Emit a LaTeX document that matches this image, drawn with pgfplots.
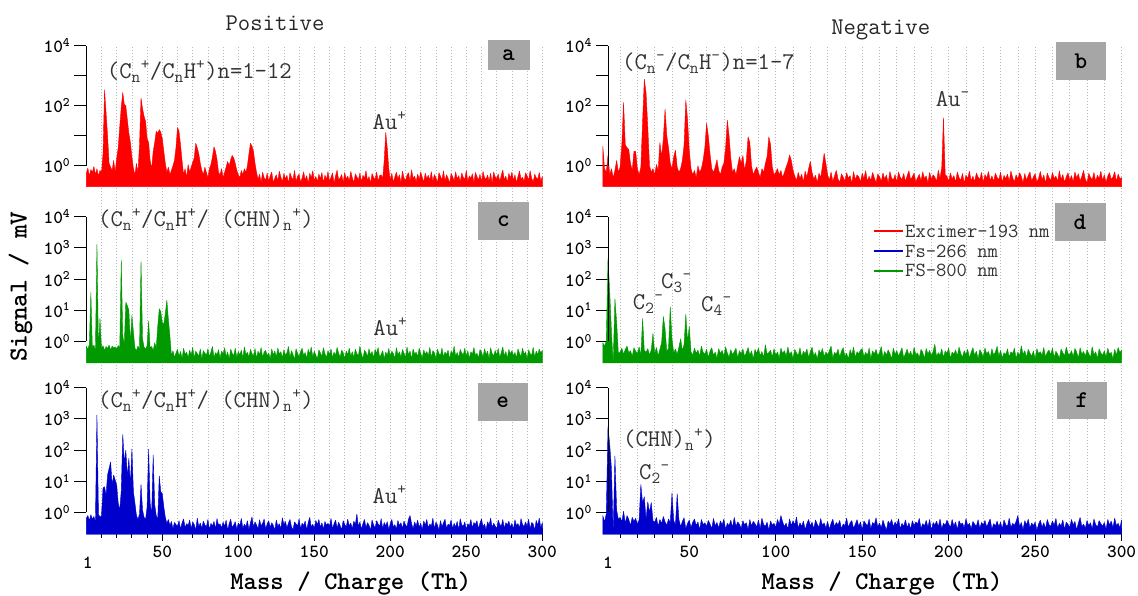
\documentclass[border=0pt]{standalone}
\usepackage{pgfplots}
\pgfplotsset{compat=1.18}
\usepackage{pgfplotstable}
\renewcommand{\familydefault}{\ttdefault}
\definecolor{cRed}{RGB}{255,0,0}
\definecolor{cGreen}{RGB}{0,153,0}
\definecolor{cBlue}{RGB}{0,0,205}
\definecolor{boxgray}{RGB}{166,166,166}
\definecolor{gridgray}{RGB}{185,185,185}
\newcommand{\myfs}[1]{\fontsize{#1}{#1}\selectfont}

% m/z = row index (0..300)
\pgfplotstableread[row sep=\\]{y\\
0.55\\0.85\\0.45\\0.75\\0.6\\0.95\\0.5\\0.8\\0.45\\0.7\\
0.6\\2.5\\340\\60\\10\\1.2\\0.9\\0.7\\1.5\\0.6\\
1.8\\4\\20\\90\\280\\110\\100\\35\\12\\6\\
2\\0.8\\0.5\\1.2\\0.6\\5\\180\\80\\45\\30\\
8\\6\\1.5\\0.8\\3\\6\\14\\12\\16\\13\\
8\\3\\1.2\\0.6\\0.9\\0.5\\0.7\\1.0\\1.5\\4\\
19\\14\\5\\1.5\\0.5\\0.8\\0.4\\1.1\\0.6\\0.9\\
1.3\\1.8\\5.6\\4\\2.5\\1.2\\0.7\\0.5\\0.9\\0.6\\
0.4\\0.8\\1.1\\2\\4.3\\3\\1.6\\0.6\\0.5\\0.8\\
0.4\\0.6\\0.9\\1.4\\1.0\\1.6\\2.2\\1.8\\1.2\\0.7\\
0.5\\0.4\\0.7\\0.5\\0.8\\0.6\\1.0\\2.5\\5.6\\4.5\\
3.0\\1.2\\0.6\\0.35\\0.52\\0.28\\0.61\\0.4\\0.33\\0.57\\
0.3\\0.46\\0.62\\0.27\\0.38\\0.5\\0.31\\0.66\\0.42\\0.29\\
0.55\\0.36\\0.48\\0.26\\0.59\\0.41\\0.34\\0.7\\0.3\\0.45\\
0.52\\0.28\\0.39\\0.63\\0.33\\0.47\\0.25\\0.56\\0.4\\0.68\\
0.32\\0.44\\0.29\\0.53\\0.37\\0.6\\0.27\\0.49\\0.35\\0.64\\
0.3\\0.42\\0.57\\0.26\\0.46\\0.72\\0.34\\0.39\\0.51\\0.28\\
0.6\\0.36\\0.45\\0.31\\0.65\\0.4\\0.27\\0.54\\0.43\\0.33\\
0.58\\0.29\\0.48\\0.38\\0.69\\0.32\\0.44\\0.26\\0.55\\0.41\\
0.35\\0.62\\0.3\\0.47\\0.5\\0.37\\1.5\\13\\4\\0.8\\
0.33\\0.56\\0.28\\0.43\\0.61\\0.36\\0.5\\0.27\\0.66\\0.4\\
0.31\\0.49\\0.58\\0.3\\0.74\\0.38\\0.45\\0.29\\0.53\\0.35\\
0.62\\0.42\\0.28\\0.57\\0.37\\0.48\\0.33\\0.64\\0.3\\0.51\\
0.4\\0.27\\0.59\\0.45\\0.34\\0.68\\0.31\\0.5\\0.39\\0.26\\
0.55\\0.43\\0.32\\0.63\\0.36\\0.47\\0.29\\0.58\\0.41\\0.35\\
0.7\\0.3\\0.46\\0.38\\0.54\\0.27\\0.6\\0.44\\0.33\\0.52\\
0.29\\0.65\\0.4\\0.35\\0.49\\0.31\\0.57\\0.26\\0.62\\0.43\\
0.37\\0.53\\0.3\\0.48\\0.72\\0.34\\0.45\\0.28\\0.56\\0.39\\
0.61\\0.32\\0.5\\0.27\\0.44\\0.67\\0.36\\0.41\\0.3\\0.58\\
0.46\\0.33\\0.69\\0.38\\0.29\\0.52\\0.4\\0.35\\0.6\\0.31\\
0.44\\
}\dataA

\pgfplotstableread[row sep=\\]{y\\
4.5\\0.8\\0.6\\2.2\\0.5\\0.8\\0.4\\0.7\\1.5\\0.6\\
0.9\\5\\130\\5\\4\\3.5\\1.2\\0.7\\3\\3\\
0.8\\0.5\\0.9\\30\\770\\270\\20\\1.0\\0.6\\0.8\\
0.5\\1.1\\0.7\\6\\2\\8\\78\\10\\4\\1.2\\
0.8\\2\\3.3\\0.9\\0.6\\0.8\\1.5\\5\\155\\35\\
3.2\\0.8\\0.5\\0.7\\0.4\\1.0\\0.6\\0.8\\1.5\\4\\
26\\10\\2.5\\0.8\\0.6\\0.9\\1.6\\0.7\\0.5\\0.9\\
1.2\\4\\33\\10\\1.8\\0.6\\0.8\\0.5\\1.0\\2.0\\
1.2\\2.2\\0.7\\1.5\\9.3\\6\\1.0\\0.5\\0.7\\0.9\\
0.6\\0.4\\0.8\\0.6\\1.2\\2\\9.3\\5\\0.9\\0.5\\
0.6\\0.8\\0.5\\0.7\\0.4\\0.6\\0.9\\1.3\\2.3\\1.5\\
0.7\\0.45\\0.32\\0.6\\0.38\\0.52\\0.29\\0.66\\0.41\\0.8\\
1.4\\0.6\\0.35\\0.48\\0.27\\0.57\\0.4\\1.0\\2.6\\1.2\\
0.5\\0.33\\0.62\\0.3\\0.46\\0.7\\0.36\\0.28\\0.54\\0.42\\
0.31\\0.59\\0.38\\0.47\\0.26\\0.64\\0.34\\0.5\\0.43\\0.29\\
0.56\\0.37\\0.69\\0.3\\0.45\\0.32\\0.6\\0.4\\0.27\\0.53\\
0.44\\0.3\\0.58\\0.36\\0.49\\0.26\\0.65\\0.39\\0.33\\0.51\\
0.28\\0.62\\0.41\\0.35\\0.55\\0.3\\0.47\\0.68\\0.34\\0.43\\
0.57\\0.29\\0.4\\0.52\\0.31\\0.63\\0.37\\0.46\\0.27\\0.6\\
0.35\\0.5\\0.42\\0.3\\0.71\\0.38\\0.9\\40\\0.5\\0.44\\
0.3\\0.58\\0.36\\0.47\\0.28\\0.62\\0.4\\0.33\\0.55\\0.26\\
0.49\\0.37\\0.66\\0.31\\0.45\\0.29\\0.57\\0.42\\0.35\\0.6\\
0.27\\0.51\\0.39\\0.64\\0.32\\0.46\\0.3\\0.56\\0.41\\0.34\\
0.61\\0.28\\0.48\\0.37\\0.53\\0.3\\0.67\\0.4\\0.29\\0.5\\
0.36\\0.59\\0.44\\0.27\\0.55\\0.33\\0.47\\0.62\\0.31\\0.42\\
0.54\\0.29\\0.38\\0.65\\0.34\\0.49\\0.26\\0.57\\0.4\\0.32\\
0.6\\0.37\\0.45\\0.3\\0.68\\0.35\\0.51\\0.28\\0.43\\0.58\\
0.33\\0.47\\0.29\\0.62\\0.39\\0.54\\0.31\\0.44\\0.7\\0.36\\
0.27\\0.56\\0.41\\0.34\\0.6\\0.3\\0.48\\0.38\\0.66\\0.32\\
0.5\\0.28\\0.45\\0.59\\0.35\\0.42\\0.63\\0.3\\0.53\\0.37\\
0.4\\
}\dataB

\pgfplotstableread[row sep=\\]{y\\
0.7\\0.55\\0.8\\37\\0.6\\0.75\\0.5\\1300\\0.65\\5.4\\
0.6\\0.72\\0.5\\0.68\\0.58\\0.75\\0.52\\0.7\\0.6\\0.66\\
0.55\\0.73\\0.62\\400\\1.5\\0.8\\18\\14\\10\\0.9\\
6.8\\2\\0.6\\0.5\\0.7\\0.58\\370\\1.2\\0.65\\0.55\\
0.72\\4.5\\0.6\\0.68\\0.5\\0.9\\0.62\\3\\11\\9\\
4\\3.5\\8\\21\\5\\1.5\\0.35\\0.5\\0.3\\0.42\\
0.55\\0.33\\0.47\\0.28\\0.6\\0.38\\0.44\\0.3\\0.52\\0.36\\
0.64\\0.29\\0.48\\0.4\\0.33\\0.57\\0.27\\0.5\\0.42\\0.35\\
0.58\\0.31\\0.46\\0.68\\0.3\\0.43\\0.37\\0.54\\0.28\\0.49\\
0.39\\0.62\\0.32\\0.45\\0.27\\0.56\\0.41\\0.34\\0.6\\0.3\\
0.47\\0.36\\0.52\\0.29\\0.66\\0.38\\0.44\\0.31\\0.55\\0.4\\
0.33\\0.59\\0.28\\0.48\\0.37\\0.63\\0.3\\0.45\\0.51\\0.34\\
0.42\\0.27\\0.57\\0.36\\0.49\\0.31\\0.61\\0.39\\0.46\\0.29\\
0.54\\0.35\\0.43\\0.68\\0.3\\0.5\\0.37\\0.26\\0.58\\0.41\\
0.32\\0.47\\0.6\\0.34\\0.44\\0.28\\0.55\\0.39\\0.65\\0.31\\
0.48\\0.36\\0.27\\0.53\\0.42\\0.33\\0.62\\0.4\\0.3\\0.5\\
0.38\\0.57\\0.29\\0.45\\0.35\\0.64\\0.41\\0.31\\0.52\\0.43\\
0.27\\0.49\\0.37\\0.6\\0.33\\0.46\\0.3\\0.56\\0.4\\0.34\\
0.7\\0.39\\0.28\\0.51\\0.44\\0.32\\0.58\\0.36\\0.47\\0.29\\
0.55\\0.41\\0.63\\0.3\\0.38\\0.5\\0.27\\0.45\\0.35\\0.59\\
0.33\\0.48\\0.4\\0.28\\0.62\\0.37\\0.46\\0.31\\0.54\\0.42\\
0.3\\0.66\\0.36\\0.49\\0.27\\0.57\\0.39\\0.44\\0.32\\0.6\\
0.41\\0.29\\0.53\\0.38\\0.47\\0.34\\0.64\\0.3\\0.5\\0.43\\
0.28\\0.56\\0.4\\0.35\\0.61\\0.31\\0.45\\0.37\\0.52\\0.27\\
0.48\\0.39\\0.69\\0.33\\0.44\\0.3\\0.55\\0.42\\0.36\\0.6\\
0.32\\0.5\\0.28\\0.46\\0.38\\0.63\\0.35\\0.41\\0.29\\0.54\\
0.45\\0.31\\0.58\\0.37\\0.48\\0.27\\0.62\\0.4\\0.34\\0.51\\
0.36\\0.59\\0.3\\0.43\\0.66\\0.33\\0.47\\0.28\\0.55\\0.39\\
0.5\\0.34\\0.44\\0.29\\0.57\\0.41\\0.32\\0.6\\0.38\\0.46\\
0.27\\0.53\\0.4\\0.35\\0.64\\0.3\\0.49\\0.37\\0.56\\0.42\\
0.5\\
}\dataC

\pgfplotstableread[row sep=\\]{y\\
0.9\\0.7\\1.0\\455\\39\\2\\0.2\\23.5\\4.2\\0.4\\
0.45\\0.6\\0.38\\0.55\\0.7\\0.42\\0.5\\0.33\\0.62\\0.48\\
0.4\\0.66\\0.35\\5.4\\0.5\\0.44\\0.58\\0.36\\0.52\\1.8\\
0.4\\0.63\\0.34\\0.55\\0.9\\6.3\\2.5\\0.47\\0.6\\12.7\\
1.2\\0.42\\0.56\\0.38\\0.65\\1.2\\0.5\\0.8\\7.4\\1.0\\
3\\0.45\\0.36\\0.6\\0.41\\0.52\\0.33\\0.7\\0.44\\0.38\\
0.56\\0.3\\0.48\\0.62\\0.35\\0.45\\0.28\\0.58\\0.4\\0.51\\
0.33\\0.67\\0.42\\0.3\\0.54\\0.37\\0.46\\0.6\\0.29\\0.5\\
0.39\\0.57\\0.32\\0.44\\0.63\\0.36\\0.49\\0.27\\0.55\\0.41\\
0.6\\0.34\\0.47\\0.3\\0.78\\0.38\\0.43\\0.52\\0.31\\0.58\\
0.36\\0.45\\0.29\\0.61\\0.4\\0.5\\0.33\\0.66\\0.37\\0.46\\
0.28\\0.55\\0.42\\0.35\\0.62\\0.31\\0.48\\0.39\\0.57\\0.3\\
0.47\\0.64\\0.34\\0.43\\0.27\\0.53\\0.4\\0.59\\0.32\\0.45\\
0.36\\0.5\\0.7\\0.29\\0.44\\0.38\\0.56\\0.31\\0.48\\0.62\\
0.33\\0.41\\0.27\\0.54\\0.37\\0.65\\0.3\\0.46\\0.4\\0.52\\
0.58\\0.32\\0.44\\0.35\\0.61\\0.28\\0.49\\0.39\\0.55\\0.34\\
0.43\\0.68\\0.3\\0.47\\0.36\\0.53\\0.41\\0.27\\0.6\\0.38\\
0.5\\0.33\\0.45\\0.62\\0.29\\0.4\\0.56\\0.35\\0.48\\0.31\\
0.64\\0.37\\0.42\\0.3\\0.55\\0.44\\0.28\\0.59\\0.39\\0.51\\
0.34\\0.47\\0.8\\0.32\\0.43\\0.36\\0.57\\0.3\\0.49\\0.41\\
0.6\\0.28\\0.45\\0.38\\0.53\\0.33\\0.66\\0.4\\0.31\\0.5\\
0.37\\0.56\\0.29\\0.44\\0.62\\0.35\\0.48\\0.27\\0.54\\0.42\\
0.32\\0.61\\0.39\\0.47\\0.3\\0.58\\0.36\\0.45\\0.69\\0.33\\
0.51\\0.29\\0.43\\0.37\\0.57\\0.31\\0.46\\0.4\\0.6\\0.28\\
0.45\\0.34\\0.72\\0.38\\0.5\\0.3\\0.55\\0.42\\0.33\\0.49\\
0.27\\0.58\\0.4\\0.46\\0.35\\0.63\\0.31\\0.44\\0.52\\0.37\\
0.6\\0.3\\0.48\\0.39\\0.28\\0.56\\0.43\\0.34\\0.65\\0.41\\
0.36\\0.5\\0.32\\0.59\\0.45\\0.29\\0.62\\0.38\\0.47\\0.33\\
0.54\\0.4\\0.3\\0.67\\0.37\\0.46\\0.28\\0.57\\0.42\\0.35\\
0.49\\0.31\\0.6\\0.39\\0.44\\0.27\\0.55\\0.36\\0.63\\0.43\\
0.52\\
}\dataD

\pgfplotstableread[row sep=\\]{y\\
0.65\\0.8\\0.55\\0.85\\0.6\\0.75\\0.5\\1340\\0.9\\0.7\\
0.8\\6\\6.7\\3.6\\16\\26\\42\\7.6\\16\\11\\
7.6\\2\\1.2\\5\\320\\40\\100\\14\\55\\7.6\\
110\\4.6\\2\\0.8\\0.6\\0.9\\8\\1.2\\0.7\\0.6\\
1.5\\108\\2\\0.9\\70\\1.8\\0.8\\0.6\\15\\4.6\\
4\\1.5\\0.7\\0.45\\0.6\\0.38\\0.52\\0.3\\0.48\\0.41\\
0.36\\0.55\\0.29\\0.47\\0.62\\0.33\\0.44\\0.38\\0.58\\0.3\\
0.5\\0.41\\0.27\\0.66\\0.35\\0.46\\0.31\\0.53\\0.4\\0.34\\
0.6\\0.28\\0.45\\0.37\\0.52\\0.3\\0.64\\0.39\\0.43\\0.32\\
0.49\\0.36\\0.57\\0.27\\0.44\\0.61\\0.33\\0.4\\0.51\\0.29\\
0.46\\0.38\\0.65\\0.31\\0.42\\0.35\\0.55\\0.28\\0.48\\0.72\\
0.34\\0.5\\0.4\\0.3\\0.59\\0.37\\0.45\\0.62\\0.29\\0.43\\
0.55\\0.33\\0.47\\0.39\\0.27\\0.58\\0.36\\0.44\\0.3\\0.68\\
0.41\\0.52\\0.32\\0.46\\0.6\\0.35\\0.28\\0.5\\0.43\\0.37\\
0.63\\0.3\\0.45\\0.38\\0.54\\0.27\\0.48\\0.7\\0.34\\0.42\\
0.31\\0.56\\0.4\\0.6\\0.33\\0.47\\0.29\\0.52\\0.39\\0.45\\
0.36\\0.65\\0.3\\0.44\\0.57\\0.32\\0.49\\0.38\\0.28\\0.55\\
0.42\\0.34\\0.61\\0.37\\0.46\\0.3\\0.53\\0.41\\0.9\\0.35\\
0.5\\0.29\\0.44\\0.6\\0.33\\0.47\\0.39\\0.27\\0.58\\0.4\\
0.32\\0.55\\0.43\\0.36\\0.64\\0.3\\0.48\\0.37\\0.51\\0.28\\
0.45\\0.6\\0.34\\0.41\\0.29\\0.56\\0.38\\0.47\\0.31\\0.53\\
0.4\\0.35\\0.62\\0.8\\0.44\\0.3\\0.5\\0.37\\0.57\\0.33\\
0.46\\0.28\\0.54\\0.39\\0.6\\0.32\\0.43\\0.36\\0.66\\0.3\\
0.49\\0.41\\0.27\\0.55\\0.35\\0.47\\0.61\\0.31\\0.42\\0.38\\
0.58\\0.3\\0.45\\0.34\\0.52\\0.28\\0.63\\0.4\\0.36\\0.5\\
0.29\\0.44\\0.37\\0.6\\0.32\\0.48\\0.41\\0.55\\0.3\\0.46\\
0.62\\0.35\\0.43\\0.28\\0.51\\0.39\\0.66\\0.33\\0.45\\0.37\\
0.3\\0.57\\0.42\\0.36\\0.6\\0.31\\0.47\\0.4\\0.53\\0.34\\
0.45\\0.29\\0.59\\0.38\\0.44\\0.32\\0.64\\0.41\\0.35\\0.5\\
0.36\\0.61\\0.3\\0.48\\0.43\\0.27\\0.56\\0.39\\0.66\\0.33\\
0.47\\
}\dataE

\pgfplotstableread[row sep=\\]{y\\
0.8\\0.5\\0.9\\570\\150\\25\\0.2\\65\\1.2\\0.6\\
0.7\\0.5\\1.1\\0.45\\0.8\\0.6\\0.38\\0.7\\0.52\\0.65\\
0.42\\0.58\\8\\2\\3.2\\0.6\\2.2\\1.0\\2.1\\0.55\\
0.48\\0.7\\0.36\\0.6\\0.44\\0.75\\0.5\\0.39\\0.62\\0.47\\
4.2\\0.55\\0.4\\4.0\\0.6\\0.35\\0.52\\0.68\\0.3\\0.45\\
0.57\\0.33\\0.49\\0.62\\0.38\\0.5\\0.28\\0.6\\0.41\\0.47\\
0.35\\0.56\\0.43\\0.3\\0.65\\0.37\\0.48\\0.32\\0.54\\0.4\\
0.62\\0.29\\0.45\\0.38\\0.57\\0.33\\0.7\\0.36\\0.5\\0.42\\
0.31\\0.55\\0.4\\0.47\\0.28\\0.6\\0.37\\0.52\\0.44\\0.34\\
0.58\\0.3\\0.66\\0.41\\0.36\\0.49\\0.27\\0.54\\0.39\\0.45\\
0.33\\0.6\\0.42\\0.8\\0.5\\0.35\\0.46\\0.29\\0.62\\0.38\\
0.55\\0.4\\0.72\\0.31\\0.47\\0.36\\0.53\\0.28\\0.44\\0.6\\
0.37\\0.49\\0.3\\0.58\\0.42\\0.34\\0.64\\0.39\\0.46\\0.32\\
0.52\\0.29\\0.45\\0.61\\0.35\\0.48\\0.4\\0.56\\0.3\\0.43\\
0.38\\0.66\\0.33\\0.47\\0.55\\0.31\\0.42\\0.59\\0.36\\0.5\\
0.28\\0.54\\0.44\\0.37\\0.62\\0.3\\0.48\\0.41\\0.68\\0.34\\
0.46\\0.32\\0.57\\0.39\\0.27\\0.53\\0.43\\0.6\\0.35\\0.49\\
0.4\\0.63\\0.3\\0.45\\0.36\\0.58\\0.33\\0.47\\0.29\\0.55\\
0.38\\0.5\\0.42\\0.65\\0.31\\0.44\\0.37\\0.56\\0.34\\0.6\\
0.27\\0.48\\0.4\\0.53\\0.35\\0.62\\0.3\\0.45\\0.39\\0.57\\
0.43\\0.33\\0.6\\0.37\\0.5\\0.28\\0.55\\0.41\\0.46\\0.32\\
0.64\\0.38\\0.45\\0.3\\0.52\\0.42\\0.36\\0.59\\0.31\\0.48\\
0.4\\0.56\\0.34\\0.47\\0.62\\0.29\\0.44\\0.37\\0.53\\0.35\\
0.49\\0.3\\0.58\\0.41\\0.36\\0.66\\0.33\\0.45\\0.39\\0.52\\
0.8\\0.35\\0.48\\0.28\\0.55\\0.4\\0.61\\0.32\\0.46\\0.38\\
0.5\\0.27\\0.43\\0.57\\0.34\\0.47\\0.3\\0.6\\0.41\\0.36\\
0.54\\0.39\\0.65\\0.31\\0.45\\0.37\\0.58\\0.29\\0.49\\0.42\\
0.33\\0.6\\0.4\\0.52\\0.28\\0.46\\0.7\\0.35\\0.43\\0.31\\
0.56\\0.38\\0.47\\0.3\\0.62\\0.41\\0.34\\0.55\\0.44\\0.36\\
0.48\\0.29\\0.6\\0.4\\0.53\\0.33\\0.66\\0.38\\0.45\\0.32\\
0.58\\
}\dataF

\pgfplotsset{
  pnlBase/.style={
    scale only axis, clip=false, log origin y=infty,
    xmax=300, ymin=0.2, ymax=10000,
    axis y line=left, y axis line style={draw=none},
    ytick={1,10,100,1000,10000}, yminorticks=false,
    yticklabels={10\textsuperscript{0},10\textsuperscript{1},10\textsuperscript{2},10\textsuperscript{3},10\textsuperscript{4}},
    yticklabel style={font=\myfs{18.5}\bfseries, text=black},
    tick align=outside, major tick length=12.5pt, minor tick length=7pt,
    tick style={black, line width=0.9pt},
  },
  pnlNoX/.style={axis x line=none},
  pnlTopLab/.style={yticklabels={10\textsuperscript{0},{},10\textsuperscript{2},{},10\textsuperscript{4}}},
  pnlBot/.style={
    axis x line=bottom, x axis line style={draw=none},
    xtick={50,100,150,200,250,300},
    xticklabels={50,100,150,200,250,300},
    minor xtick={10,20,30,40,60,70,80,90,110,120,130,140,160,170,180,190,210,220,230,240,260,270,280,290},
    xticklabel style={font=\myfs{18.5}\bfseries, text=black, yshift=-2pt},
  },
  pnlGrid/.style={
    scale only axis, xmax=300, ymin=0, ymax=1,
    xtick={10,20,...,300}, ytick=\empty, xticklabels={},
    xmajorgrids, major grid style={gridgray, line width=0.7pt, dash pattern=on 1pt off 2pt},
    axis line style={draw=none}, major tick length=0pt, tick style={draw=none},
  },
  pnlSpec/.style={draw=#1, fill=#1, line width=0.4pt, line join=bevel},
}

\begin{document}
\begin{tikzpicture}
\useasboundingbox (0,0) rectangle (1138pt,596pt);

% background dotted grids
\begin{axis}[pnlGrid, xmin=0, width=456pt, height=488.6pt, at={(86.3pt,61.7pt)}, anchor=south west]
\end{axis}
\begin{axis}[pnlGrid, xmin=3, width=513.6pt, height=488.6pt, at={(608pt,61.7pt)}, anchor=south west]
\end{axis}

% a
\begin{semilogyaxis}[pnlBase, pnlNoX, pnlTopLab, xmin=0, width=456pt, height=141pt, at={(86.3pt,409.3pt)}, anchor=south west]
\addplot[pnlSpec=cRed] table[x expr=\coordindex, y=y] {\dataA} \closedcycle;
\draw[black, line width=0.9pt] (axis cs:0,1) -- (axis cs:0,10000);
\end{semilogyaxis}
% b
\begin{semilogyaxis}[pnlBase, pnlNoX, pnlTopLab, xmin=3, width=513.6pt, height=141pt, at={(608pt,409.3pt)}, anchor=south west]
\addplot[pnlSpec=cRed] table[x expr=\coordindex, y=y] {\dataB} \closedcycle;
\draw[black, line width=0.9pt] (axis cs:3,1) -- (axis cs:3,10000);
\end{semilogyaxis}
% c
\begin{semilogyaxis}[pnlBase, pnlNoX, xmin=0, width=456pt, height=146.3pt, at={(86.3pt,233pt)}, anchor=south west]
\addplot[pnlSpec=cGreen] table[x expr=\coordindex, y=y] {\dataC} \closedcycle;
\draw[black, line width=0.9pt] (axis cs:0,1) -- (axis cs:0,10000);
\end{semilogyaxis}
% d
\begin{semilogyaxis}[pnlBase, pnlNoX, xmin=3, width=513.6pt, height=146.3pt, at={(608pt,233pt)}, anchor=south west]
\addplot[pnlSpec=cGreen] table[x expr=\coordindex, y=y] {\dataD} \closedcycle;
\draw[black, line width=0.9pt] (axis cs:3,1) -- (axis cs:3,10000);
\end{semilogyaxis}
% e
\begin{semilogyaxis}[pnlBase, pnlBot, xmin=0, width=456pt, height=146.6pt, at={(86.3pt,61.7pt)}, anchor=south west]
\addplot[pnlSpec=cBlue] table[x expr=\coordindex, y=y] {\dataE} \closedcycle;
\draw[black, line width=0.9pt] (axis cs:0,1) -- (axis cs:0,10000);
\node[anchor=north, inner sep=0pt, font=\myfs{18.5}\bfseries] at ([yshift=-22pt]axis cs:1,0.2) {1};
\end{semilogyaxis}
% f
\begin{semilogyaxis}[pnlBase, pnlBot, xmin=3, width=513.6pt, height=146.6pt, at={(608pt,61.7pt)}, anchor=south west]
\addplot[pnlSpec=cBlue] table[x expr=\coordindex, y=y] {\dataF} \closedcycle;
\draw[black, line width=0.9pt] (axis cs:3,1) -- (axis cs:3,10000);
\node[anchor=north, inner sep=0pt, font=\myfs{18.5}\bfseries] at ([yshift=-22pt]axis cs:3,0.2) {1};
\end{semilogyaxis}

% legend (panel d)
\draw[cRed, line width=2pt] (873.7pt,365pt) -- (903pt,365pt);
\draw[cBlue, line width=2pt] (873.7pt,345pt) -- (903pt,345pt);
\draw[cGreen, line width=2pt] (873.7pt,325pt) -- (903pt,325pt);
\begin{scope}[every node/.style={anchor=west, inner sep=0pt, font=\myfs{20}, text=black!80}]
\node at (905pt,364.3pt) {Excimer-193 nm};
\node at (905pt,345pt) {Fs-266 nm};
\node at (905pt,326pt) {FS-800 nm};
\end{scope}

% titles, axis labels
\node[anchor=base, inner sep=0pt, font=\myfs{24}, text=black!85] at (275pt,565.3pt) {Positive};
\node[anchor=base, inner sep=0pt, font=\myfs{24}, text=black!85] at (880.7pt,561.7pt) {Negative};
\node[font=\myfs{26}\bfseries, rotate=90] at (20.5pt,309.3pt) {Signal / mV};
\node[anchor=base, inner sep=0pt, font=\myfs{25.5}\bfseries] at (350.8pt,6pt) {Mass / Charge (Th)};
\node[anchor=base, inner sep=0pt, font=\myfs{25.5}\bfseries] at (882pt,6pt) {Mass / Charge (Th)};

% panel letters
\node[fill=boxgray, minimum width=42pt, minimum height=30pt, inner sep=0pt, font=\myfs{24}\bfseries] at (508.5pt,541pt) {a};
\node[fill=boxgray, minimum width=50.5pt, minimum height=37.7pt, inner sep=0pt, font=\myfs{24}\bfseries] at (1080.9pt,534.8pt) {b};
\node[fill=boxgray, minimum width=50.7pt, minimum height=37.7pt, inner sep=0pt, font=\myfs{24}\bfseries] at (503.3pt,374.8pt) {c};
\node[fill=boxgray, minimum width=51pt, minimum height=37.4pt, inner sep=0pt, font=\myfs{24}\bfseries] at (1080pt,374pt) {d};
\node[fill=boxgray, minimum width=50.4pt, minimum height=37.4pt, inner sep=0pt, font=\myfs{24}\bfseries] at (502.7pt,194pt) {e};
\node[fill=boxgray, minimum width=50.5pt, minimum height=37.3pt, inner sep=0pt, font=\myfs{24}\bfseries] at (1082pt,195.7pt) {f};

% annotations
\begin{scope}[every node/.style={anchor=base west, inner sep=0pt, font=\myfs{24}, text=black!80}]
\node at (106.7pt,517.7pt) {(C\textsubscript{n}\textsuperscript{+}/C\textsubscript{n}H\textsuperscript{+})n=1-12};
\node at (372.5pt,466.7pt) {Au\textsuperscript{+}};
\node at (622pt,526.4pt) {(C\textsubscript{n}\textsuperscript{-}/C\textsubscript{n}H\textsuperscript{-})n=1-7};
\node at (935.6pt,489.3pt) {Au\textsuperscript{-}};
\node at (98pt,369.4pt) {(C\textsubscript{n}\textsuperscript{+}/C\textsubscript{n}H\textsuperscript{+}/ (CHN)\textsubscript{n}\textsuperscript{+})};
\node at (373.2pt,260pt) {Au\textsuperscript{+}};
\node at (632.7pt,286.7pt) {C\textsubscript{2}\textsuperscript{-}};
\node at (661pt,307.7pt) {C\textsubscript{3}\textsuperscript{-}};
\node at (701pt,284.7pt) {C\textsubscript{4}\textsuperscript{-}};
\node at (98pt,188.4pt) {(C\textsubscript{n}\textsuperscript{+}/C\textsubscript{n}H\textsuperscript{+}/ (CHN)\textsubscript{n}\textsuperscript{+})};
\node at (372.5pt,92pt) {Au\textsuperscript{+}};
\node at (623pt,149.4pt) {(CHN)\textsubscript{n}\textsuperscript{+})};
\node at (639pt,116.7pt) {C\textsubscript{2}\textsuperscript{-}};
\end{scope}
\end{tikzpicture}
\end{document}
